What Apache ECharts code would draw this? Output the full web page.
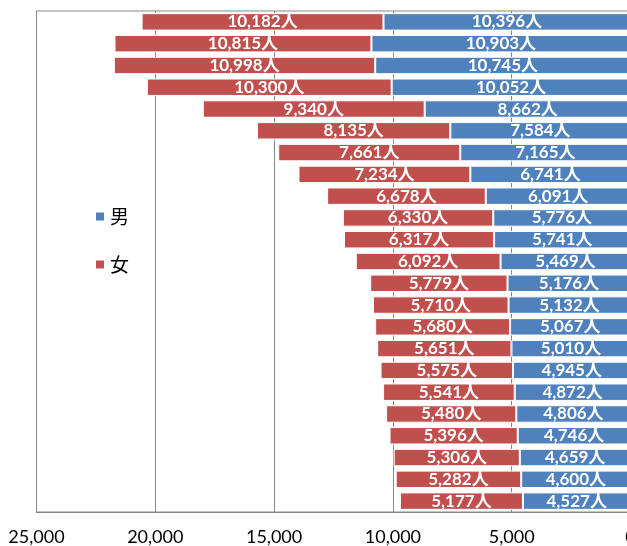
<!DOCTYPE html>
<html>
<head>
<meta charset="utf-8">
<script src="https://cdn.jsdelivr.net/npm/echarts@6/dist/echarts.min.js"></script>
<style>
html,body{margin:0;padding:0;background:#fff;}
#c{width:627px;height:546px;}
</style>
</head>
<body>
<div id="c"></div>
<script>
const categories = ['1','2','3','4','5','6','7','8','9','10','11','12','13','14','15','16','17','18','19','20','21','22','23'];
const male = [10396,10903,10745,10052,8662,7584,7165,6741,6091,5776,5741,5469,5176,5132,5067,5010,4945,4872,4806,4746,4659,4600,4527];
const female = [10182,10815,10998,10300,9340,8135,7661,7234,6678,6330,6317,6092,5779,5710,5680,5651,5575,5541,5480,5396,5306,5282,5177];
const xTicks = [0,5000,10000,15000,20000,25000];

const fmtNum = v => v.toString().replace(/\B(?=(\d{3})+(?!\d))/g, ',');
const chart = echarts.init(document.getElementById('c'), null, {renderer:'canvas'});
const labelStyle = {
  show: true, position: 'inside', color: '#fff', fontWeight: 'bold',
  fontFamily: 'Lato, "Noto Sans CJK JP", sans-serif', fontSize: 17,
  formatter: p => fmtNum(p.value) + '人'
};
chart.setOption({
  animation: false,
  grid: {left: 36.5, right: -3.5, top: 11, bottom: 34, show: true, borderColor: '#868686', borderWidth: 1, backgroundColor: 'transparent', outerBoundsMode: 'none', containLabel: false},
  legend: {
    data: ['男','女'], orient: 'vertical', left: 89, top: 202, itemGap: 29,
    icon: 'rect', itemWidth: 10, itemHeight: 10,
    textStyle: {fontSize: 19, color: '#000', fontFamily: '"Noto Sans CJK JP", sans-serif'}
  },
  xAxis: {
    type: 'value', inverse: true, min: xTicks[0], max: xTicks[xTicks.length-1], interval: 5000,
    axisLine: {show: true, lineStyle: {color: '#868686'}},
    axisTick: {show: false},
    axisLabel: {color: '#000', fontSize: 18, fontFamily: 'Lato, sans-serif', margin: 16, formatter: v => fmtNum(v)},
    splitLine: {show: true, lineStyle: {color: '#868686', width: 1}}
  },
  yAxis: {
    type: 'category', data: categories, inverse: true,
    axisLine: {show: true, lineStyle: {color: '#868686'}},
    axisTick: {show: false}, axisLabel: {show: false}
  },
  series: [
    {name: '男', type: 'bar', stack: 'total', data: male, barCategoryGap: '20%',
     itemStyle: {color: '#4F81BD', borderColor: '#fff', borderWidth: 1}, label: labelStyle},
    {name: '女', type: 'bar', stack: 'total', data: female, barCategoryGap: '20%',
     itemStyle: {color: '#C0504D', borderColor: '#fff', borderWidth: 1}, label: labelStyle}
  ]
});
</script>
</body>
</html>
